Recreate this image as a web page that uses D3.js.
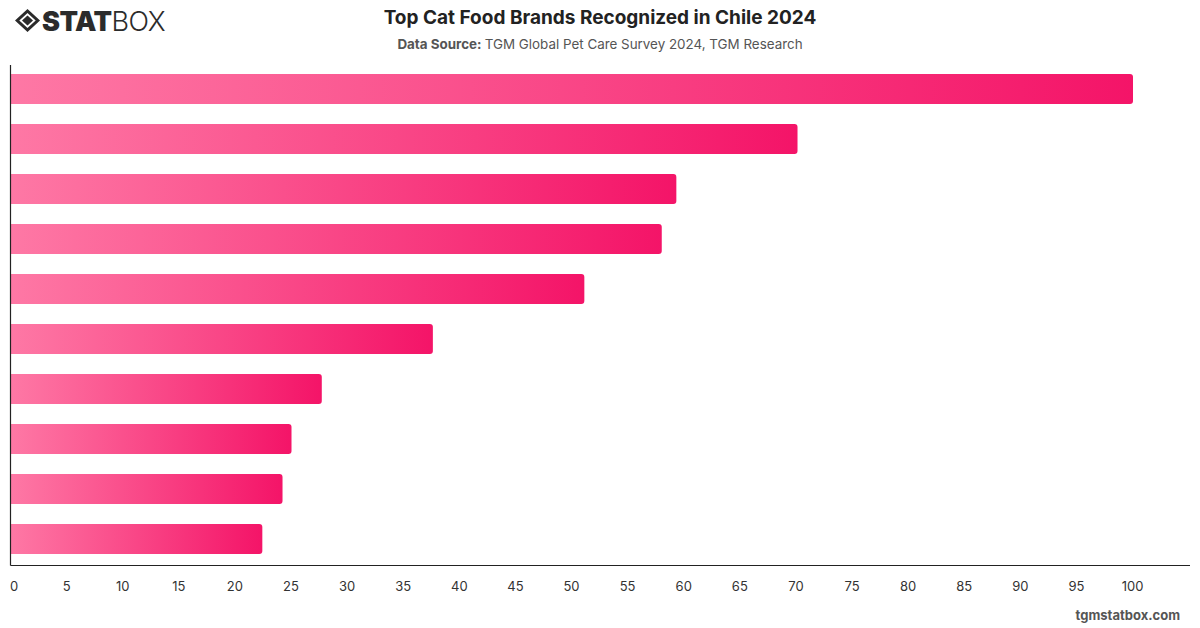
<!DOCTYPE html>
<html>
<head>
<meta charset="utf-8">
<script src="https://cdn.jsdelivr.net/npm/d3@7"></script>
<style>
  body { margin: 0; background: #fff; font-family: Inter, "Noto Sans", sans-serif; }
  #chart { width: 1200px; height: 628px; }
</style>
</head>
<body>
<div id="chart"></div>
<script>
// brand names are not shown in the picture, so keys only
var categories = ["b1", "b2", "b3", "b4", "b5", "b6", "b7", "b8", "b9", "b10"];
var values = [100, 70.1, 59.3, 58.0, 51.1, 37.6, 27.7, 25.0, 24.2, 22.4];
var xTicks = [0, 5, 10, 15, 20, 25, 30, 35, 40, 45, 50, 55, 60, 65, 70, 75, 80, 85, 90, 95, 100];

var width = 1200, height = 628;
var margin = { top: 65, right: 10, bottom: 63, left: 11 };

var svg = d3.select("#chart")
  .append("svg")
  .attr("width", width)
  .attr("height", height);

// gradient for bars
var grad = svg.append("defs")
  .append("linearGradient")
  .attr("id", "barGrad")
  .attr("x1", "0%").attr("x2", "100%")
  .attr("y1", "0%").attr("y2", "0%");
grad.append("stop").attr("offset", "0%").attr("stop-color", "#fe78a5");
grad.append("stop").attr("offset", "100%").attr("stop-color", "#f41468");

// logo
var logo = svg.append("g").attr("transform", "translate(15,9)");
logo.append("path")
  .attr("d", "M12.5 0 L25 11.5 L12.5 23 L0 11.5 Z M12.5 4 L4.3 11.5 L12.5 19 L20.7 11.5 Z")
  .attr("fill", "#2b2b2b")
  .attr("fill-rule", "evenodd");
logo.append("path")
  .attr("d", "M12.5 6.5 L18 11.5 L12.5 16.5 L7 11.5 Z")
  .attr("fill", "#2b2b2b");
var logoText = logo.append("text")
  .attr("x", 27)
  .attr("y", 22)
  .attr("font-size", 27)
  .attr("fill", "#2b2b2b")
  .attr("letter-spacing", "-0.5");
logoText.append("tspan").attr("font-weight", 900).text("STAT");
logoText.append("tspan").attr("font-weight", 300).text("BOX");

// title
svg.append("text")
  .attr("x", 600)
  .attr("y", 24)
  .attr("text-anchor", "middle")
  .attr("font-size", 19)
  .attr("font-weight", 700)
  .attr("fill", "#222")
  .text("Top Cat Food Brands Recognized in Chile 2024");

var sub = svg.append("text")
  .attr("x", 600)
  .attr("y", 49)
  .attr("text-anchor", "middle")
  .attr("font-size", 13.4)
  .attr("fill", "#555");
sub.append("tspan").attr("font-weight", 700).text("Data Source: ");
sub.append("tspan").text("TGM Global Pet Care Survey 2024, TGM Research");

// scales
var x = d3.scaleLinear()
  .domain([0, 100])
  .range([margin.left, 1133]);
var xMaxPx = width - margin.right;

var y = d3.scaleBand()
  .domain(categories)
  .range([margin.top - 1, height - margin.bottom - 1])
  .paddingInner(0.4)
  .paddingOuter(0.2);

// bars (rounded on the right end only)
var r = 3;
svg.append("g")
  .selectAll("path")
  .data(values)
  .enter()
  .append("path")
  .attr("fill", "url(#barGrad)")
  .attr("d", function(d, i) {
    var x0 = x(0), x1 = x(d), y0 = y(categories[i]), h = y.bandwidth();
    return "M" + x0 + "," + y0 +
      " H" + (x1 - r) +
      " Q" + x1 + "," + y0 + " " + x1 + "," + (y0 + r) +
      " V" + (y0 + h - r) +
      " Q" + x1 + "," + (y0 + h) + " " + (x1 - r) + "," + (y0 + h) +
      " H" + x0 + " Z";
  });

// axes
var axisY = height - margin.bottom;
svg.append("line")
  .attr("x1", margin.left - 0.5).attr("x2", xMaxPx)
  .attr("y1", axisY + 0.5).attr("y2", axisY + 0.5)
  .attr("stroke", "#222").attr("stroke-width", 1.2);
svg.append("line")
  .attr("x1", margin.left - 0.5).attr("x2", margin.left - 0.5)
  .attr("y1", margin.top).attr("y2", axisY + 0.5)
  .attr("stroke", "#222").attr("stroke-width", 1.2);

var xAxis = d3.axisBottom(x)
  .tickValues(xTicks)
  .tickSize(0)
  .tickPadding(0);
var gx = svg.append("g")
  .attr("transform", "translate(-1," + (axisY + 17) + ")")
  .call(xAxis);
gx.select(".domain").remove();
gx.selectAll("text")
  .attr("font-family", "Inter, 'Noto Sans', sans-serif")
  .attr("font-size", 13)
  .attr("fill", "#333")
  .attr("dx", d => d === 0 ? 3.5 : 0);

// footer
svg.append("text")
  .attr("x", 1180)
  .attr("y", 620)
  .attr("text-anchor", "end")
  .attr("font-size", 13)
  .attr("font-weight", 700)
  .attr("fill", "#555")
  .text("tgmstatbox.com");
</script>
</body>
</html>
